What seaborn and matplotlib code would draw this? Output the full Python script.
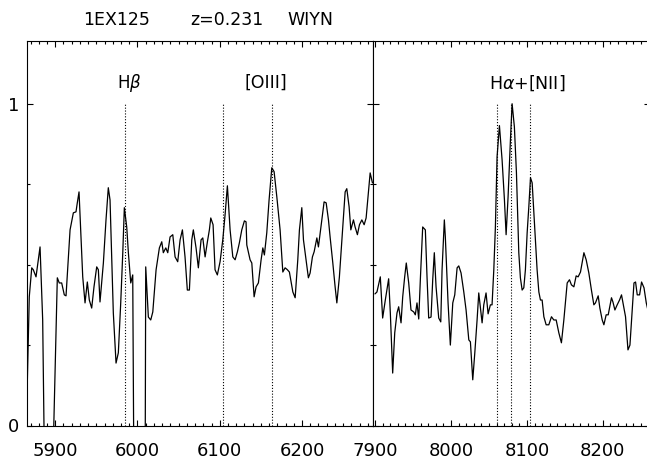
import numpy as np
import pandas as pd
import matplotlib
matplotlib.use("Agg")
import matplotlib.pyplot as plt
from matplotlib.ticker import MultipleLocator, FixedLocator
import seaborn as sns

# Observed-frame spectrum, blue window (Hbeta + [OIII]); flux normalised to the Halpha peak
wave_blue = [5866.0, 5868.4, 5871.4, 5873.3, 5876.6, 5881.5, 5884.7, 5887.0, 5896.8,
             5902.5, 5904.9, 5907.8, 5911.0, 5913.1, 5918.0, 5922.0, 5925.2, 5926.8, 5928.9,
             5933.4, 5936.2, 5939.0, 5941.4, 5944.3, 5947.1, 5950.4, 5952.4, 5954.4, 5958.5,
             5961.7, 5964.5, 5966.6, 5970.6, 5973.9, 5976.7, 5979.6, 5982.1, 5984.0, 5986.9,
             5988.9, 5991.8, 5994.2, 5995.6, 6009.3, 6010.0, 6013.2, 6016.1, 6018.6, 6022.6,
             6026.6, 6029.5, 6031.4, 6034.4, 6036.8, 6039.6, 6042.9, 6045.7, 6048.9, 6051.8,
             6054.6, 6057.8, 6060.6, 6063.1, 6066.0, 6067.9, 6071.2, 6074.0, 6077.3, 6079.4,
             6082.2, 6085.0, 6087.4, 6089.1, 6091.9, 6094.3, 6097.1, 6100.4, 6103.7, 6106.5,
             6109.3, 6112.6, 6115.9, 6118.7, 6121.5, 6123.9, 6126.8, 6130.0, 6132.0, 6132.9,
             6136.9, 6139.0, 6141.8, 6144.2, 6147.0, 6150.3, 6152.4, 6154.3, 6157.2, 6160.0,
             6163.3, 6166.1, 6169.4, 6173.4, 6176.7, 6179.5, 6182.3, 6184.7, 6188.9, 6191.7,
             6194.9, 6196.9, 6199.8, 6201.8, 6205.0, 6207.8, 6209.9, 6212.7, 6214.8, 6218.1,
             6220.0, 6222.9, 6226.9, 6229.4, 6232.2, 6234.2, 6237.5, 6240.3, 6242.4, 6245.5,
             6248.5, 6252.5, 6254.5, 6257.3, 6259.4, 6262.6, 6264.6, 6267.4, 6269.9, 6272.8,
             6275.6, 6278.0, 6282.9, 6285.7]
flux_blue = [0.132, 0.400, 0.490, 0.484, 0.462, 0.555, 0.328, -0.15, -0.15,
             0.459, 0.443, 0.443, 0.406, 0.403, 0.608, 0.661, 0.664, 0.692, 0.726,
             0.462, 0.381, 0.446, 0.390, 0.365, 0.431, 0.493, 0.484, 0.384, 0.505,
             0.639, 0.739, 0.701, 0.350, 0.194, 0.226, 0.381, 0.537, 0.677, 0.617,
             0.537, 0.443, 0.468, -0.15, -0.15, 0.493, 0.337, 0.328, 0.353, 0.484,
             0.552, 0.571, 0.537, 0.552, 0.537, 0.586, 0.593, 0.524, 0.509, 0.577,
             0.608, 0.524, 0.421, 0.421, 0.577, 0.608, 0.552, 0.490, 0.577, 0.583,
             0.524, 0.571, 0.608, 0.645, 0.624, 0.484, 0.468, 0.509, 0.577, 0.655,
             0.745, 0.608, 0.524, 0.515, 0.540, 0.568, 0.608, 0.636, 0.633, 0.561,
             0.515, 0.505, 0.400, 0.431, 0.443, 0.515, 0.552, 0.530, 0.599, 0.701,
             0.801, 0.789, 0.711, 0.608, 0.477, 0.490, 0.484, 0.477, 0.415, 0.397,
             0.515, 0.608, 0.677, 0.577, 0.515, 0.459, 0.474, 0.524, 0.540, 0.583,
             0.555, 0.614, 0.695, 0.692, 0.639, 0.586, 0.505, 0.431, 0.381, 0.462,
             0.577, 0.726, 0.736, 0.680, 0.608, 0.639, 0.617, 0.593, 0.624, 0.639,
             0.624, 0.645, 0.785, 0.754]

# Red window (Halpha + [NII])
wave_red = [7900.0, 7902.6, 7907.0, 7910.1, 7913.6, 7918.0, 7920.2, 7923.3, 7926.0, 7929.0,
            7931.2, 7934.3, 7936.5, 7939.1, 7941.2, 7944.4, 7947.4, 7951.0, 7953.1, 7955.3,
            7957.6, 7959.7, 7962.8, 7966.3, 7968.5, 7970.7, 7973.8, 7976.0, 7978.1, 7980.4,
            7983.9, 7986.6, 7988.3, 7991.3, 7992.6, 7996.2, 7999.2, 8002.4, 8005.0, 8008.1,
            8010.3, 8013.3, 8016.9, 8019.9, 8023.5, 8025.6, 8028.7, 8031.4, 8034.4, 8036.6,
            8038.7, 8041.0, 8043.2, 8046.2, 8048.9, 8051.9, 8054.1, 8056.4, 8058.5, 8060.7,
            8063.8, 8067.3, 8070.4, 8072.6, 8075.2, 8078.3, 8080.5, 8083.5, 8086.2, 8089.3,
            8091.4, 8093.7, 8095.9, 8098.0, 8100.3, 8102.5, 8104.7, 8106.9, 8109.1, 8111.2,
            8113.4, 8115.7, 8117.8, 8120.0, 8122.3, 8125.3, 8128.8, 8132.3, 8135.4, 8138.5,
            8142.0, 8145.4, 8148.6, 8153.0, 8156.0, 8158.6, 8161.8, 8164.8, 8167.4, 8170.5,
            8175.0, 8178.0, 8181.5, 8184.9, 8188.1, 8190.2, 8193.8, 8196.0, 8199.1, 8201.3,
            8204.3, 8207.0, 8211.3, 8213.2, 8215.8, 8218.8, 8221.9, 8224.5, 8227.7, 8229.8,
            8233.0, 8235.6, 8238.6, 8240.9, 8243.0, 8245.2, 8248.3, 8250.9, 8254.1, 8257.1,
            8260.7]
flux_red = [0.409, 0.415, 0.462, 0.334, 0.390, 0.456, 0.350, 0.163, 0.288, 0.350,
            0.369, 0.319, 0.400, 0.462, 0.505, 0.443, 0.359, 0.353, 0.344, 0.381,
            0.331, 0.453, 0.617, 0.608, 0.462, 0.334, 0.337, 0.453, 0.537, 0.431,
            0.334, 0.322, 0.484, 0.639, 0.586, 0.381, 0.250, 0.381, 0.406, 0.490,
            0.496, 0.474, 0.415, 0.359, 0.266, 0.260, 0.142, 0.226, 0.328, 0.412,
            0.369, 0.319, 0.375, 0.412, 0.347, 0.375, 0.375, 0.484, 0.617, 0.835,
            0.932, 0.826, 0.701, 0.593, 0.711, 0.888, 1.000, 0.928, 0.785, 0.537,
            0.459, 0.421, 0.428, 0.484, 0.599, 0.680, 0.770, 0.754, 0.661, 0.577,
            0.484, 0.415, 0.390, 0.390, 0.338, 0.313, 0.313, 0.338, 0.328, 0.328,
            0.288, 0.257, 0.328, 0.443, 0.453, 0.437, 0.431, 0.465, 0.462, 0.477,
            0.537, 0.515, 0.474, 0.421, 0.375, 0.381, 0.403, 0.365, 0.328, 0.313,
            0.344, 0.344, 0.397, 0.384, 0.359, 0.375, 0.390, 0.406, 0.365, 0.338,
            0.235, 0.250, 0.359, 0.443, 0.446, 0.406, 0.406, 0.446, 0.428, 0.381,
            0.344]

# Emission-line positions at z = 0.231
lines_blue = [5984.3, 6104.4, 6163.4]
lines_red = [8060.7, 8078.8, 8104.2]
line_labels = [r"H$\beta$", "[OIII]", r"H$\alpha$+[NII]"]
label_pos = [5989.7, 6156.4, 8100.0]

sns.set_style("ticks")
plt.rcParams["font.family"] = ["DejaVu Sans"]
plt.rcParams["mathtext.fontset"] = "dejavusans"
plt.rcParams["text.color"] = "black"
plt.rcParams["xtick.color"] = "black"
plt.rcParams["ytick.color"] = "black"
plt.rcParams["xtick.labelcolor"] = "black"
plt.rcParams["ytick.labelcolor"] = "black"

W, H = 647, 466
fig = plt.figure(figsize=(W / 100, H / 100), dpi=100)
y0, y1 = 41.0, 425.5
ax1 = fig.add_axes([27.3 / W, (H - y1) / H, (372.7 - 27.3) / W, (y1 - y0) / H])
ax2 = fig.add_axes([372.7 / W, (H - y1) / H, (650.0 - 372.7) / W, (y1 - y0) / H])

df_blue = pd.DataFrame({"wave": wave_blue, "flux": flux_blue})
df_red = pd.DataFrame({"wave": wave_red, "flux": flux_red})
sns.lineplot(data=df_blue, x="wave", y="flux", ax=ax1, color="black", lw=0.9,
             sort=False, estimator=None)
sns.lineplot(data=df_red, x="wave", y="flux", ax=ax2, color="black", lw=0.9,
             sort=False, estimator=None)

for ax, lines in ((ax1, lines_blue), (ax2, lines_red)):
    ax.vlines(lines, 0, 1.0, colors="black", linestyles=(0, (1, 1.6)), lw=0.8)

ax1.set_xlim(5866, 6286)
ax2.set_xlim(7897, 8262)
for ax in (ax1, ax2):
    ax.set_ylim(0, 1.195)
    ax.set_xlabel("")
    ax.set_ylabel("")
    ax.xaxis.set_major_locator(MultipleLocator(100))
    ax.xaxis.set_minor_locator(MultipleLocator(10))
    ax.yaxis.set_major_locator(FixedLocator([0, 1]))
    ax.yaxis.set_minor_locator(FixedLocator([0.25, 0.5, 0.75]))
    ax.tick_params(which="both", direction="in", top=True, right=True,
                   colors="black", labelcolor="black", width=0.8)
    ax.tick_params(which="major", length=4.5)
    ax.tick_params(which="minor", length=2.3)
    ax.tick_params(axis="x", labelsize=13, pad=12)
    ax.tick_params(axis="y", labelsize=13, pad=6)
    for s in ax.spines.values():
        s.set_linewidth(0.8)
        s.set_color("black")
        s.set_visible(True)

ax1.set_yticklabels(["0", "1"])
ax2.set_yticklabels([])

ax1.text(label_pos[0], 1.064, line_labels[0], ha="center", va="center", fontsize=12, color="black")
ax1.text(label_pos[1], 1.064, line_labels[1], ha="center", va="center", fontsize=12.5, color="black")
ax2.text(label_pos[2], 1.064, line_labels[2], ha="center", va="center", fontsize=12.5, color="black")

fig.text(116.7 / W, 1 - 20 / H, "1EX125", ha="center", va="center", fontsize=12.5, color="black")
fig.text(226.7 / W, 1 - 20 / H, "z=0.231", ha="center", va="center", fontsize=12.5, color="black")
fig.text(310.8 / W, 1 - 20 / H, "WIYN", ha="center", va="center", fontsize=12.5, color="black")

fig.savefig("out.png", dpi=100)
